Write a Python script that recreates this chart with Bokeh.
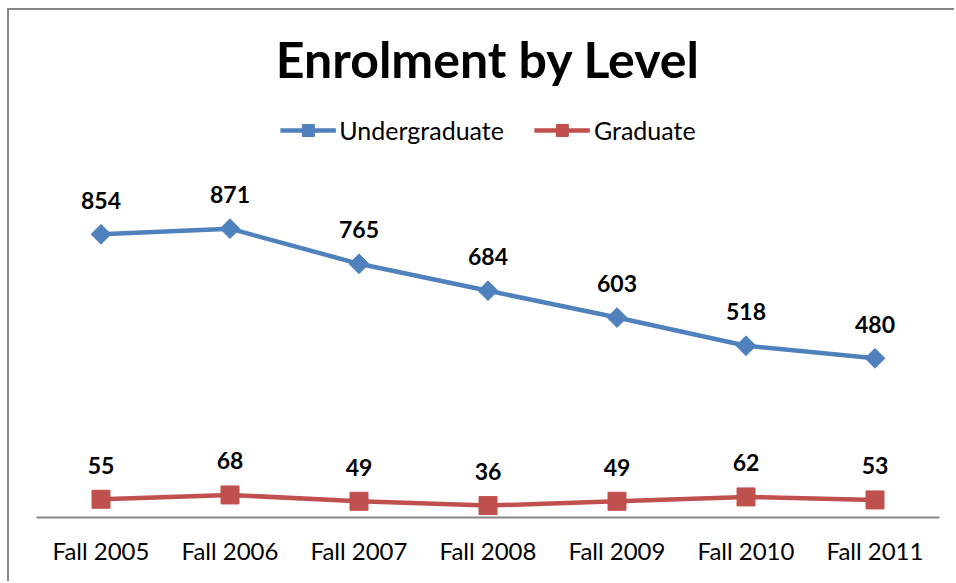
import math
from bokeh.plotting import figure
from bokeh.models import ColumnDataSource, LabelSet, Legend, LegendItem, Range1d
from bokeh.core.properties import value
from bokeh.embed import file_html
from bokeh.resources import INLINE

categories = ["Fall 2005", "Fall 2006", "Fall 2007", "Fall 2008", "Fall 2009", "Fall 2010", "Fall 2011"]
undergraduate = [854, 871, 765, 684, 603, 518, 480]
graduate = [55, 68, 49, 36, 49, 62, 53]

FONT = "Lato"
BLUE = "#4F81BD"
RED = "#C0504D"

TOP = 85
BOTTOM = 66
H = 573
W = 947
FRAME_H = H - TOP - BOTTOM
Y_END = FRAME_H / 0.3316

src = ColumnDataSource(dict(
    x=categories,
    ug=undergraduate,
    gr=graduate,
    ug_txt=[str(v) for v in undergraduate],
    gr_txt=[str(v) for v in graduate],
))

p = figure(
    x_range=categories,
    y_range=Range1d(0, Y_END),
    width=W,
    height=H,
    min_border_left=27,
    min_border_right=17,
    min_border_top=TOP,
    min_border_bottom=BOTTOM,
    output_backend="svg",
    toolbar_location=None,
    title="Enrolment by Level",
)
p.styles = {
    "margin-left": "7px",
    "margin-top": "8px",
    "border-left": "2px solid #868686",
    "border-top": "2px solid #868686",
}
p.title.align = "center"
p.title.text_font = FONT
p.title.text_font_size = "50px"
p.title.text_font_style = "bold"
p.title.text_color = "black"
p.title.standoff = 13

p.outline_line_color = None
p.xgrid.grid_line_color = None
p.ygrid.grid_line_color = None
p.yaxis.visible = False
p.xaxis.axis_line_color = "#868686"
p.xaxis.axis_line_width = 2
p.xaxis.major_tick_line_color = None
p.xaxis.minor_tick_line_color = None
p.xaxis.major_label_text_font = FONT
p.xaxis.major_label_text_font_size = "24px"
p.xaxis.major_label_text_color = "black"
p.xaxis.major_label_standoff = 12

l1 = p.line("x", "ug", source=src, line_color=BLUE, line_width=4.5)
m1 = p.scatter("x", "ug", source=src, marker="square", angle=math.pi / 4, size=14,
               fill_color=BLUE, line_color=BLUE)
l2 = p.line("x", "gr", source=src, line_color=RED, line_width=4.5)
m2 = p.scatter("x", "gr", source=src, marker="square", size=18,
               fill_color=RED, line_color=RED)

for col, txt in (("ug", "ug_txt"), ("gr", "gr_txt")):
    p.add_layout(LabelSet(x="x", y=col, text=txt, source=src, y_offset=34,
                          text_align="center", text_baseline="middle",
                          text_font=value(FONT), text_font_size=value("23px"),
                          text_font_style="bold", text_color="black"))

legend = Legend(
    items=[LegendItem(label="Undergraduate", renderers=[l1, m1]),
           LegendItem(label="Graduate", renderers=[l2, m2])],
    orientation="horizontal",
    location="top_center",
    label_text_font=FONT,
    label_text_font_size="25px",
    label_text_color="black",
    glyph_width=56,
    glyph_height=30,
    label_standoff=4,
    spacing=30,
    border_line_color=None,
    background_fill_alpha=0,
    margin=20,
    padding=0,
)
p.add_layout(legend)

open("out.html", "w").write(file_html(p, INLINE))
